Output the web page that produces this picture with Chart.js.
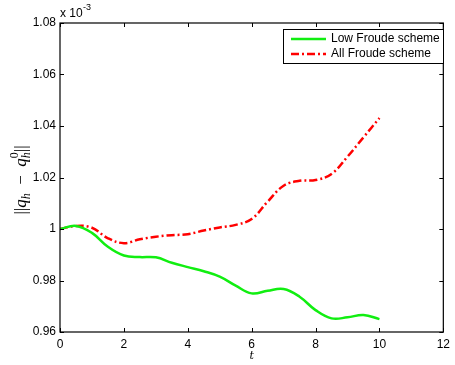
<!DOCTYPE html>
<html>
<head>
<meta charset="utf-8">
<script src="https://cdn.jsdelivr.net/npm/chart.js@4/dist/chart.umd.min.js"></script>
<style>
  html, body { margin: 0; padding: 0; background: #fff; }
</style>
</head>
<body>
<canvas id="chart" width="455" height="365"></canvas>
<script>
// data (values shown in units of 1e-3)
var times = [0, 0.5, 1, 1.5, 2, 2.5, 3, 3.5, 4, 4.5, 5, 5.5, 6, 6.5, 7, 7.5, 8, 8.5, 9, 9.5, 10]
var lowFroude = [1.000, 1.0012, 0.9985, 0.9931, 0.9897, 0.9891, 0.9890, 0.9869, 0.9852, 0.9836, 0.9815,
                 0.9780, 0.9750, 0.9760, 0.9767, 0.9737, 0.9685, 0.9653, 0.9657, 0.9666, 0.9650]
var allFroude = [1.000, 1.0012, 1.0005, 0.9964, 0.9945, 0.9960, 0.9970, 0.9976, 0.9980, 0.9994, 1.0006,
                 1.0016, 1.0039, 1.0106, 1.0168, 1.0187, 1.0190, 1.0214, 1.0281, 1.0356, 1.0431]
var xTicks = [0, 2, 4, 6, 8, 10, 12]
var yTicks = [0.96, 0.98, 1, 1.02, 1.04, 1.06, 1.08]
var seriesNames = ["Low Froude scheme", "All Froude scheme"]

var tickFont = "12px 'Liberation Sans', Arial, sans-serif"

function toPoints(ys) {
    return ys.map(function (y, i) { return { x: times[i], y: y } })
}

// box, inward ticks, legend and axis labels (matlab look)
var decorations = {
    id: "decorations",
    afterDraw: function (chart) {
        var ctx = chart.ctx
        var area = chart.chartArea
        var xs = chart.scales.x
        var ys = chart.scales.y
        ctx.save()
        ctx.strokeStyle = "#000"
        ctx.lineWidth = 1.2
        ctx.strokeRect(area.left, area.top, area.right - area.left, area.bottom - area.top)

        ctx.lineWidth = 1
        ctx.beginPath()
        for (let t of xTicks) {
            let px = Math.round(xs.getPixelForValue(t)) + 0.5
            ctx.moveTo(px, area.bottom); ctx.lineTo(px, area.bottom - 4)
            ctx.moveTo(px, area.top); ctx.lineTo(px, area.top + 4)
        }
        for (let v of yTicks) {
            let py = Math.round(ys.getPixelForValue(v)) + 0.5
            ctx.moveTo(area.left, py); ctx.lineTo(area.left + 4, py)
            ctx.moveTo(area.right, py); ctx.lineTo(area.right - 4, py)
        }
        ctx.stroke()

        // exponent label
        ctx.fillStyle = "#000"
        ctx.font = tickFont
        ctx.textBaseline = "alphabetic"
        ctx.textAlign = "left"
        ctx.fillText("x 10", 60, 17)
        ctx.font = "9px 'Liberation Sans', Arial, sans-serif"
        ctx.fillText("-3", 83, 10)

        // legend
        let lx = 283, ly = 29, lw = 160, lh = 34
        ctx.fillStyle = "#fff"
        ctx.fillRect(lx, ly, lw, lh)
        ctx.strokeStyle = "#000"
        ctx.lineWidth = 1
        ctx.strokeRect(lx + 0.5, ly + 0.5, lw, lh)
        chart.data.datasets.forEach(function (ds, i) {
            let rowY = ly + 10 + i * 15
            ctx.beginPath()
            ctx.strokeStyle = ds.borderColor
            ctx.lineWidth = ds.borderWidth
            ctx.setLineDash(ds.borderDash || [])
            ctx.moveTo(291, rowY); ctx.lineTo(326, rowY)
            ctx.stroke()
            ctx.setLineDash([])
            ctx.fillStyle = "#000"
            ctx.font = tickFont
            ctx.textBaseline = "middle"
            ctx.fillText(ds.label, 331, rowY)
        })

        // x label
        ctx.font = "italic 11px 'DejaVu Serif', 'Liberation Serif', serif"
        ctx.textAlign = "center"
        ctx.textBaseline = "alphabetic"
        ctx.fillText("t", (area.left + area.right) / 2, 359)

        // y label ||q_h - q_h^0||
        ctx.translate(22, 180)
        ctx.rotate(-Math.PI / 2)
        let big = "17px 'Liberation Serif', serif"
        let bigIt = "italic 17px 'Liberation Serif', serif"
        let small = "12px 'Liberation Serif', serif"
        let smallIt = "italic 12px 'Liberation Serif', serif"
        let parts = [
            ["||", big, 0],
            ["q", bigIt, 0],
            ["h", smallIt, 4],
            ["  \u2212  ", big, 0],
            ["q", bigIt, 0],
            ["h", smallIt, 4, true],
            ["0", small, -8],
            ["||", big, 0]
        ]
        let total = 0
        for (let p of parts) {
            ctx.font = p[1]
            if (!p[3]) total += ctx.measureText(p[0]).width
        }
        let cx = -total / 2
        ctx.textAlign = "left"
        for (let p of parts) {
            ctx.font = p[1]
            ctx.fillText(p[0], cx, 4 + p[2])
            if (!p[3]) cx += ctx.measureText(p[0]).width
        }
        ctx.restore()
    }
}

new Chart(document.getElementById("chart"), {
    type: "line",
    data: {
        datasets: [
            {
                label: seriesNames[0],
                data: toPoints(lowFroude),
                borderColor: "#11ee11",
                borderWidth: 2.5,
                pointRadius: 0,
                tension: 0.4,
                fill: false
            },
            {
                label: seriesNames[1],
                data: toPoints(allFroude),
                borderColor: "#ff0000",
                borderWidth: 2.5,
                borderDash: [8, 3, 2, 3],
                pointRadius: 0,
                tension: 0.4,
                fill: false
            }
        ]
    },
    options: {
        responsive: false,
        animation: false,
        devicePixelRatio: 1,
        layout: { padding: { top: 23, right: 7, left: 0, bottom: 0 } },
        plugins: { legend: { display: false }, tooltip: { enabled: false } },
        scales: {
            x: {
                type: "linear",
                min: 0,
                max: 12,
                afterBuildTicks: function (scale) { scale.ticks = xTicks.map(function (v) { return { value: v } }) },
                afterFit: function (scale) { scale.height = 33 },
                grid: { display: false, drawTicks: false },
                border: { display: false },
                ticks: {
                    padding: 5,
                    color: "#000",
                    font: { family: "'Liberation Sans', Arial, sans-serif", size: 12 },
                    maxRotation: 0
                }
            },
            y: {
                min: 0.96,
                max: 1.08,
                afterBuildTicks: function (scale) { scale.ticks = yTicks.map(function (v) { return { value: v } }) },
                afterFit: function (scale) { scale.width = 60 },
                grid: { display: false, drawTicks: false },
                border: { display: false },
                ticks: {
                    padding: 4,
                    color: "#000",
                    font: { family: "'Liberation Sans', Arial, sans-serif", size: 12 },
                    callback: function (v) { return String(+v.toFixed(2)) }
                }
            }
        }
    },
    plugins: [decorations]
})
</script>
</body>
</html>
